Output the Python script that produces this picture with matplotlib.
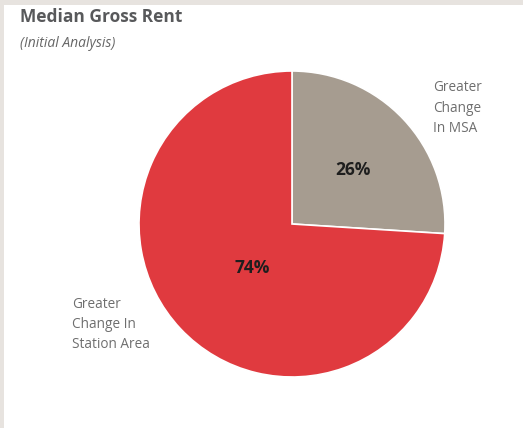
import matplotlib.pyplot as plt
from matplotlib.patches import Rectangle

W, H = 523, 428

labels = ['Greater\nChange\nIn MSA', 'Greater\nChange In\nStation Area']
shares = [26, 74]
pct_labels = ['26%', '74%']
colors = ['#a69c90', '#e03a3f']

plt.rcParams['font.family'] = ['Open Sans', 'DejaVu Sans']

fig = plt.figure(figsize=(W / 100, H / 100), dpi=100)
fig.patch.set_facecolor('#e7e3df')
ax = fig.add_axes([4 / W, 0, (W - 4) / W, (H - 5) / H])
ax.add_patch(Rectangle((4, 0), W - 4, H - 5, facecolor='white', edgecolor='none', zorder=0))

# pie, in pixel coordinates (y measured from bottom)
ax.pie(shares, colors=colors, startangle=90, counterclock=False,
       center=(292, H - 224), radius=153, frame=True,
       wedgeprops=dict(edgecolor='white', linewidth=1.2))
ax.set_xlim(4, W)
ax.set_ylim(0, H - 5)
ax.set_aspect('equal', adjustable='box')
ax.axis('off')

ax.text(353, H - 170, pct_labels[0], ha='center', va='center',
        fontsize=12.5, fontweight='bold', color='#1e1e1e')
ax.text(252, H - 268, pct_labels[1], ha='center', va='center',
        fontsize=12.5, fontweight='bold', color='#1e1e1e')

ax.text(433, H - 80, labels[0], ha='left', va='top', fontsize=9.8,
        color='#6e6e6e', linespacing=1.5)
ax.text(72, H - 297, labels[1], ha='left', va='top', fontsize=9.8,
        color='#6e6e6e', linespacing=1.45)

ax.text(20, H - 8, 'Median Gross Rent', ha='left', va='top', fontsize=12.5,
        fontweight='bold', color='#58595b')
ax.text(20, H - 36, '(Initial Analysis)', ha='left', va='top', fontsize=10,
        fontstyle='italic', color='#666666')

fig.savefig('out.png', dpi=100, facecolor=fig.get_facecolor())
